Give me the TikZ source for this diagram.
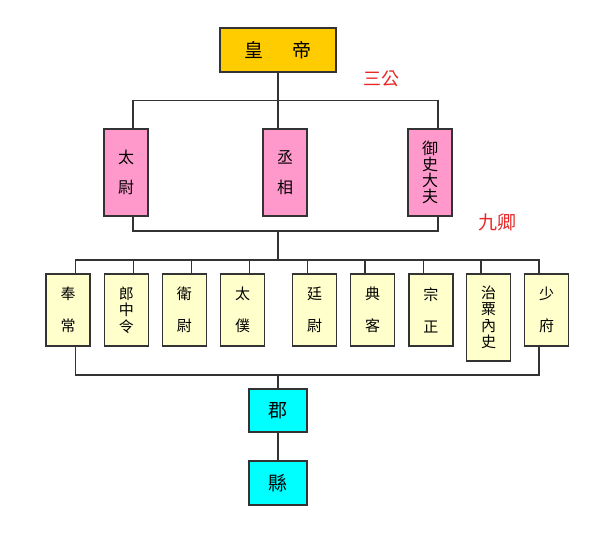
\documentclass[tikz,border=0pt]{standalone}
\usepackage{fontspec}
\setmainfont{Noto Sans CJK TC}
\definecolor{gold}{HTML}{FFCC00}
\definecolor{pinkbox}{HTML}{FF99CC}
\definecolor{paleyellow}{HTML}{FFFFCC}
\definecolor{cyanbox}{HTML}{00FFFF}
\definecolor{redlabel}{HTML}{E82828}
\definecolor{linegray}{HTML}{333333}
\begin{document}
\begin{tikzpicture}[x=1pt,y=-1pt,
  boxbase/.style={draw=linegray, line width=1.2pt, inner sep=0pt, align=center, anchor=center},
  empbox/.style={boxbase, fill=gold, minimum width=116pt, minimum height=44pt, font=\fontsize{19}{20}\selectfont},
  gongbox/.style={boxbase, fill=pinkbox, minimum width=44pt, minimum height=87pt, font=\fontsize{16}{16}\selectfont},
  qingbox/.style={boxbase, fill=paleyellow, minimum width=44pt, minimum height=72pt, font=\fontsize{15}{16.5}\selectfont},
  tallqing/.style={qingbox, minimum height=87pt},
  localbox/.style={boxbase, fill=cyanbox, minimum width=58pt, minimum height=43pt, font=\fontsize{19}{20}\selectfont},
  redtext/.style={text=redlabel, font=\fontsize{18}{20}\selectfont, inner sep=0pt},
  conn/.style={draw=linegray, line width=1.2pt}]
\useasboundingbox (0,0) rectangle (600,533);
\fill[white] (0,0) rectangle (600,533);

% nodes
\node[empbox] (emp) at (278,50) {皇\hspace{30pt}帝};
\node[redtext] (sangong) at (381,79) {三公};
\node[gongbox] (tw) at (126,172.5) {太\\[13.5pt]尉};
\node[gongbox] (cx) at (285,172.5) {丞\\[13.5pt]相};
\node[gongbox] (ys) at (430,172.5) {御\\史\\大\\夫};
\node[redtext, font=\fontsize{19}{20}\selectfont] (jiuqing) at (497,222) {九卿};

\node[qingbox] (n1) at (68,310) {奉\\[15.5pt]常};
\node[qingbox] (n2) at (126.4,310) {郎\\中\\令};
\node[qingbox] (n3) at (184.3,310) {衛\\[15.5pt]尉};
\node[qingbox] (n4) at (242.5,310) {太\\[15.5pt]僕};
\node[qingbox] (n5) at (314.6,310) {廷\\[15.5pt]尉};
\node[qingbox] (n6) at (372.5,310) {典\\[15.5pt]客};
\node[qingbox] (n7) at (430.9,310) {宗\\[15.5pt]正};
\node[tallqing] (n8) at (488.5,317.5) {治\\粟\\內\\史};
\node[qingbox] (n9) at (546.5,310) {少\\[15.5pt]府};

\node[localbox] (jun) at (278,410.5) {郡};
\node[localbox, minimum height=44pt] (xian) at (278,483) {縣};

% junctions
\coordinate (jt) at (278,100.5);
\coordinate (jm) at (278,231);
\coordinate (jn) at (278,260);
\coordinate (jb) at (278,375);

% connectors
\draw[conn] (emp.south) -- (emp.south |- cx.north);
\draw[conn] ([xshift=7pt]tw.north) |- (jt) -| ([xshift=8pt]ys.north);
\draw[conn] ([xshift=7pt]tw.south) |- (jm) -| ([xshift=8pt]ys.south);
\draw[conn] (jm) -- (jn);
\draw[conn] ([xshift=7.5pt]n1.north) |- (jn) -| ([xshift=-7.5pt]n9.north);
\foreach \n in {n2,n3,n4}
  \draw[conn] ([xshift=7pt]\n.north) -- ([xshift=7pt]\n.north |- jn);
\foreach \n in {n5,n6,n7,n8}
  \draw[conn] ([xshift=-7.5pt]\n.north) -- ([xshift=-7.5pt]\n.north |- jn);
\draw[conn] ([xshift=7.5pt]n1.south) |- (jb) -| ([xshift=-7.5pt]n9.south);
\draw[conn] (jb) -- (jun.north);
\draw[conn] (jun.south) -- (xian.north);
\end{tikzpicture}
\end{document}
